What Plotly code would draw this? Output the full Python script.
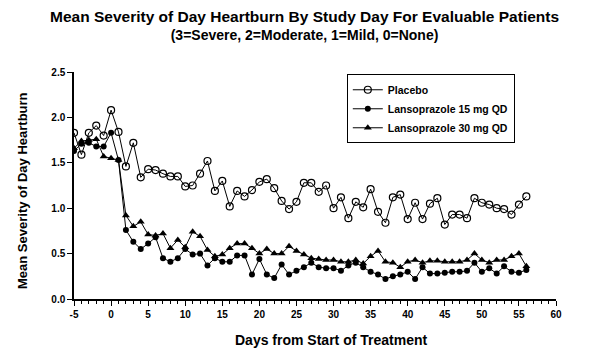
import plotly.graph_objects as go

days = [-5, -4, -3, -2, -1, 0, 1, 2, 3, 4, 5, 6, 7, 8, 9, 10, 11, 12, 13, 14,
        15, 16, 17, 18, 19, 20, 21, 22, 23, 24, 25, 26, 27, 28, 29, 30, 31, 32,
        33, 34, 35, 36, 37, 38, 39, 40, 41, 42, 43, 44, 45, 46, 47, 48, 49, 50,
        51, 52, 53, 54, 55, 56]

placebo = [1.83, 1.59, 1.83, 1.91, 1.80, 2.08, 1.84, 1.46, 1.72, 1.34,
           1.43, 1.42, 1.38, 1.35, 1.35, 1.24, 1.25, 1.38, 1.52, 1.19,
           1.30, 1.02, 1.19, 1.13, 1.20, 1.29, 1.32, 1.22, 1.08, 0.99,
           1.07, 1.28, 1.28, 1.18, 1.25, 1.00, 1.12, 0.89, 1.07, 1.01,
           1.21, 0.96, 0.84, 1.12, 1.15, 0.88, 1.06, 0.88, 1.05, 1.11,
           0.82, 0.93, 0.93, 0.89, 1.11, 1.06, 1.04, 1.00, 0.99, 0.93,
           1.04, 1.13]

lanso15 = [1.63, 1.71, 1.72, 1.68, 1.68, 1.83, 1.53, 0.76, 0.63, 0.55,
           0.61, 0.68, 0.45, 0.41, 0.45, 0.55, 0.49, 0.50, 0.37, 0.45,
           0.41, 0.41, 0.48, 0.48, 0.27, 0.44, 0.27, 0.23, 0.38, 0.27,
           0.31, 0.35, 0.40, 0.35, 0.34, 0.34, 0.31, 0.37, 0.40, 0.35,
           0.30, 0.27, 0.22, 0.25, 0.27, 0.30, 0.22, 0.35, 0.28, 0.28,
           0.29, 0.30, 0.30, 0.31, 0.40, 0.30, 0.34, 0.28, 0.36, 0.30,
           0.29, 0.32]

lanso30 = [1.66, 1.74, 1.75, 1.76, 1.57, 1.55, 1.53, 0.92, 0.80, 0.85,
           0.71, 0.70, 0.72, 0.56, 0.65, 0.57, 0.74, 0.69, 0.54, 0.47,
           0.49, 0.56, 0.61, 0.61, 0.56, 0.50, 0.55, 0.50, 0.50, 0.58,
           0.53, 0.49, 0.45, 0.44, 0.43, 0.43, 0.41, 0.41, 0.43, 0.39,
           0.47, 0.53, 0.41, 0.40, 0.35, 0.41, 0.43, 0.40, 0.42, 0.42,
           0.41, 0.41, 0.41, 0.43, 0.50, 0.43, 0.40, 0.43, 0.43, 0.47,
           0.50, 0.36]

series_names = ["Placebo", "Lansoprazole 15 mg QD", "Lansoprazole 30 mg QD"]
x_ticks = [-5, 0, 5, 10, 15, 20, 25, 30, 35, 40, 45, 50, 55, 60]
y_ticks = [0.0, 0.5, 1.0, 1.5, 2.0, 2.5]

title_line1 = "Mean Severity of Day Heartburn By Study Day For Evaluable Patients"
title_line2 = "(3=Severe, 2=Moderate, 1=Mild, 0=None)"
x_title = "Days from Start of Treatment"
y_title = "Mean Severity of Day Heartburn"

FONT = "Liberation Sans, Arial, sans-serif"

fig = go.Figure()
fig.add_trace(go.Scatter(
    x=days, y=placebo, mode="lines+markers", name=series_names[0],
    line=dict(color="black", width=1),
    marker=dict(symbol="circle-open", size=7, color="black",
                line=dict(width=1.2, color="black")),
))
fig.add_trace(go.Scatter(
    x=days, y=lanso15, mode="lines+markers", name=series_names[1],
    line=dict(color="black", width=1),
    marker=dict(symbol="circle", size=6, color="black"),
))
fig.add_trace(go.Scatter(
    x=days, y=lanso30, mode="lines+markers", name=series_names[2],
    line=dict(color="black", width=1),
    marker=dict(symbol="triangle-up", size=7, color="black"),
))

fig.update_layout(
    width=602, height=358,
    margin=dict(l=66, r=54, t=64, b=67),
    paper_bgcolor="white", plot_bgcolor="white",
    font=dict(family=FONT, color="black", size=10),
    showlegend=True,
    legend=dict(
        x=0.566, y=0.99, xanchor="left", yanchor="top",
        bgcolor="white", bordercolor="black", borderwidth=1,
        font=dict(family=FONT, size=10.5, color="black", weight="bold"),
        itemwidth=30, tracegroupgap=0,
    ),
    annotations=[
        dict(text=f"<b><span style='font-size:15.5px'>{title_line1}</span><br>{title_line2}</b>",
             xref="paper", yref="paper", x=0.479, y=1.205,
             xanchor="center", yanchor="middle", showarrow=False,
             font=dict(family=FONT, size=14, color="black")),
        dict(text=f"<b>{x_title}</b>", xref="paper", yref="paper",
             x=0.533, y=-0.18, xanchor="center", yanchor="middle", showarrow=False,
             font=dict(family=FONT, size=14, color="black")),
        dict(text=f"<b>{y_title}</b>", xref="paper", yref="paper",
             x=-0.108, y=0.48, xanchor="center", yanchor="middle", showarrow=False,
             textangle=-90, font=dict(family=FONT, size=13, color="black")),
    ],
)

fig.update_xaxes(
    range=[-5, 60], tickmode="array", tickvals=x_ticks,
    ticktext=[f"<b>{v}</b>" for v in x_ticks],
    showgrid=False, zeroline=False, showline=True, linecolor="black", linewidth=1.5,
    ticks="outside", ticklen=5, tickwidth=1.2, tickcolor="black",
    minor=dict(dtick=1, ticks="outside", ticklen=3, tickcolor="black", tickwidth=1, showgrid=False),
    tickfont=dict(family=FONT, size=10, color="black"),
    automargin=False,
)
fig.update_yaxes(
    range=[0, 2.5], tickmode="array", tickvals=y_ticks,
    ticktext=[f"<b>{v:.1f}</b>" for v in y_ticks],
    showgrid=False, zeroline=False, showline=True, linecolor="black", linewidth=1.5,
    ticks="outside", ticklen=5, tickwidth=1.2, tickcolor="black",
    tickfont=dict(family=FONT, size=10, color="black"),
    automargin=False,
)

fig.write_html("out.html")
